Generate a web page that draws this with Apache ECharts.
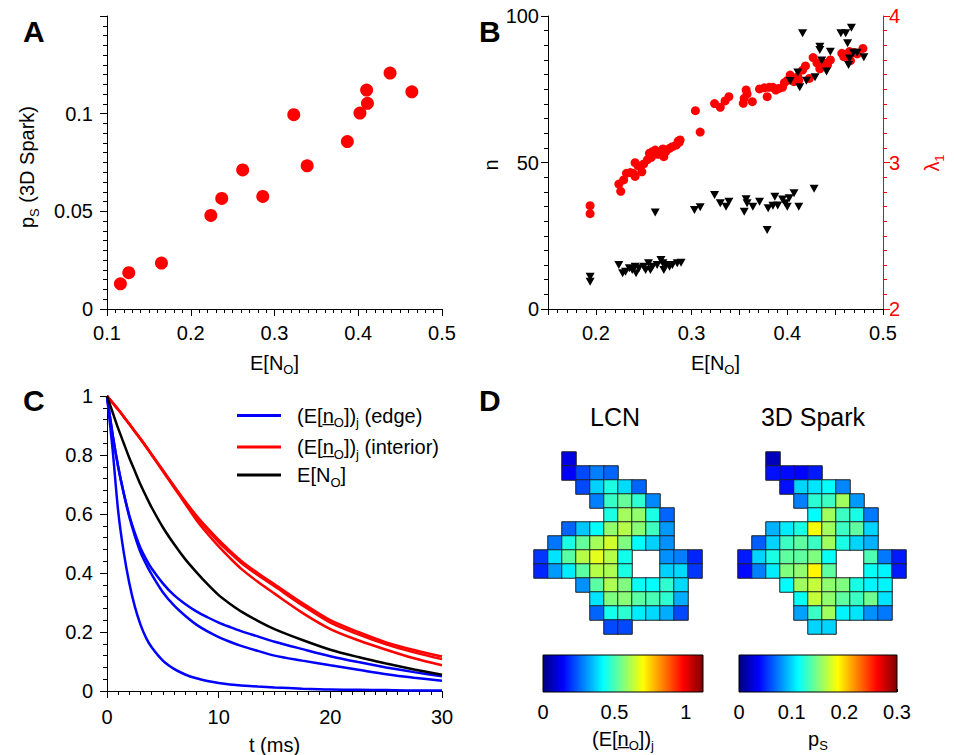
<!DOCTYPE html>
<html>
<head>
<meta charset="utf-8">
<style>
  html, body { margin: 0; padding: 0; background: #fff; }
  #chart { width: 954px; height: 755px; }
</style>
<script src="https://cdn.jsdelivr.net/npm/echarts@6/dist/echarts.min.js"></script>
</head>
<body>
<div id="chart"></div>
<script>
const FONT = "'Liberation Sans', Arial, sans-serif";

// ---- panel A: p_S vs E[N_O]
const aENo = [0.116, 0.126, 0.165, 0.224, 0.237, 0.262, 0.286, 0.323, 0.339, 0.387, 0.402, 0.410, 0.411, 0.438, 0.464];
const aPs = [0.0129, 0.0186, 0.0235, 0.0479, 0.0566, 0.0712, 0.0576, 0.0995, 0.0733, 0.0857, 0.1003, 0.1121, 0.1053, 0.1208, 0.1112];

// ---- panel B: lambda_1 (red, right axis) and n (black, left axis)
const bLamX = [0.194, 0.194, 0.224, 0.226, 0.229, 0.232, 0.236, 0.239, 0.241, 0.241, 0.244, 0.248, 0.250, 0.254, 0.256,
  0.258, 0.259, 0.262, 0.265, 0.268, 0.270, 0.271, 0.273, 0.277, 0.280, 0.284, 0.286, 0.287, 0.288, 0.304,
  0.309, 0.324, 0.330, 0.335, 0.339, 0.354, 0.355, 0.357, 0.358, 0.3635, 0.371, 0.376, 0.379, 0.381, 0.385,
  0.388, 0.391, 0.395, 0.397, 0.400, 0.403, 0.407, 0.411, 0.412, 0.416, 0.419, 0.423, 0.427, 0.431, 0.434,
  0.435, 0.438, 0.442, 0.445, 0.457, 0.459, 0.462, 0.465, 0.466, 0.470, 0.473, 0.479];
const bLam = [2.705, 2.651, 2.853, 2.803, 2.881, 2.926, 2.931, 2.926, 2.905, 2.999, 2.978, 2.937, 2.990, 3.020, 3.063,
  3.035, 3.074, 3.085, 3.056, 3.075, 3.092, 3.040, 3.074, 3.097, 3.108, 3.119, 3.145, 3.137, 3.154, 3.354,
  3.208, 3.402, 3.377, 3.420, 3.449, 3.404, 3.438, 3.495, 3.468, 3.415, 3.502, 3.510, 3.449, 3.513, 3.513,
  3.495, 3.505, 3.513, 3.545, 3.560, 3.597, 3.552, 3.586, 3.560, 3.631, 3.659, 3.574, 3.716, 3.680, 3.640,
  3.660, 3.680, 3.665, 3.700, 3.745, 3.722, 3.735, 3.757, 3.695, 3.750, 3.741, 3.779];
const bNX = [0.194, 0.194, 0.224, 0.228, 0.231, 0.235, 0.238, 0.241, 0.242, 0.245, 0.250, 0.252, 0.255, 0.257, 0.259,
  0.262, 0.264, 0.268, 0.270, 0.271, 0.273, 0.277, 0.280, 0.285, 0.289,
  0.303, 0.309, 0.324, 0.330, 0.336, 0.339, 0.355, 0.357, 0.358, 0.364, 0.371, 0.379, 0.380, 0.385, 0.387,
  0.390, 0.395, 0.398, 0.400, 0.402, 0.407, 0.412, 0.428,
  0.403, 0.411, 0.413, 0.416, 0.420, 0.429, 0.434, 0.434, 0.436, 0.441, 0.445, 0.456, 0.461, 0.463, 0.464,
  0.465, 0.467, 0.469, 0.473, 0.480];
const bN = [11.0, 9.3, 15.0, 12.2, 12.7, 13.9, 13.3, 14.4, 12.2, 13.9, 14.4, 13.3, 15.6, 13.3, 14.4,
  32.9, 15.0, 16.7, 15.6, 13.3, 15.0, 14.4, 15.0, 15.6, 15.8,
  33.8, 34.7, 38.9, 36.1, 34.9, 36.6, 33.2, 37.5, 36.1, 34.9, 36.6, 27.0, 34.4, 35.2, 38.3,
  35.3, 37.4, 36.1, 34.9, 37.8, 39.5, 34.9, 41.0,
  77.8, 80.7, 75.7, 94.1, 77.9, 79.1, 89.5, 88.4, 84.8, 81.1, 87.8, 94.1, 94.1, 90.7, 83.3,
  85.5, 96.0, 87.5, 87.5, 85.9];
const bTickLabels = [0.2, 0.3, 0.4, 0.5];

// ---- panel C: decay curves (ms)
const cT = [0, 0.5, 1, 1.5, 2, 2.5, 3, 3.5, 4, 5, 6, 7, 8, 9, 10, 11, 12, 13.5, 15, 17.5, 20, 22.5, 25, 27.5, 30];
const cEdge1 = [1, 0.82, 0.61, 0.47, 0.365, 0.285, 0.225, 0.18, 0.148, 0.103, 0.075, 0.056, 0.043, 0.034, 0.027,
  0.022, 0.019, 0.015, 0.012, 0.008, 0.005, 0.004, 0.003, 0.002, 0.002];
const cEdge2 = [1, 0.87, 0.76, 0.67, 0.59, 0.525, 0.47, 0.43, 0.395, 0.335, 0.29, 0.255, 0.225, 0.202, 0.183,
  0.167, 0.153, 0.136, 0.12, 0.103, 0.087, 0.072, 0.057, 0.045, 0.035];
const cEdge3 = [1, 0.87, 0.76, 0.67, 0.595, 0.535, 0.485, 0.447, 0.415, 0.365, 0.325, 0.295, 0.27, 0.25, 0.232,
  0.217, 0.203, 0.185, 0.167, 0.142, 0.118, 0.098, 0.08, 0.064, 0.05];
const cInt1 = [1, 0.977, 0.954, 0.93, 0.905, 0.88, 0.855, 0.829, 0.802, 0.748, 0.695, 0.643, 0.595, 0.552, 0.512,
  0.476, 0.442, 0.4, 0.362, 0.298, 0.24, 0.2, 0.165, 0.139, 0.117];
const cInt2 = [1, 0.977, 0.954, 0.93, 0.905, 0.88, 0.855, 0.829, 0.802, 0.748, 0.694, 0.641, 0.59, 0.546, 0.505,
  0.469, 0.435, 0.393, 0.355, 0.29, 0.232, 0.192, 0.158, 0.131, 0.108];
const cInt3 = [1, 0.977, 0.954, 0.93, 0.905, 0.879, 0.853, 0.827, 0.8, 0.745, 0.69, 0.635, 0.58, 0.533, 0.49,
  0.451, 0.415, 0.37, 0.33, 0.265, 0.21, 0.172, 0.14, 0.111, 0.087];
const cTotal = [1, 0.945, 0.89, 0.84, 0.79, 0.745, 0.7, 0.66, 0.622, 0.555, 0.498, 0.447, 0.403, 0.362, 0.325,
  0.296, 0.27, 0.238, 0.21, 0.173, 0.14, 0.115, 0.093, 0.073, 0.055];

// ---- panel D: per-site maps (rows top to bottom, 12 columns, null = no site)
const _ = null;
const lcnMap = [
  [_, _, 0.11, _, _, _, _, _, _, _, _, _],
  [_, _, 0.14, 0.22, 0.28, 0.25, _, _, _, _, _, _],
  [_, _, _, 0.22, 0.37, 0.45, 0.38, 0.25, _, _, _, _],
  [_, _, _, _, 0.28, 0.48, 0.53, 0.47, 0.29, _, _, _],
  [_, _, _, _, _, 0.45, 0.60, 0.58, 0.45, 0.25, _, _],
  [_, _, 0.25, 0.36, 0.42, 0.58, 0.62, 0.57, 0.49, 0.31, _, _],
  [_, 0.27, 0.45, 0.53, 0.60, 0.65, 0.56, 0.42, 0.37, 0.30, _, _],
  [0.20, 0.39, 0.52, 0.62, 0.67, 0.62, 0.44, _, _, 0.30, 0.28, 0.18],
  [0.18, 0.31, 0.40, 0.52, 0.62, 0.61, 0.45, _, _, 0.37, 0.38, 0.20],
  [_, _, _, 0.30, 0.52, 0.61, 0.56, 0.43, 0.42, 0.47, 0.38, _],
  [_, _, _, _, 0.39, 0.56, 0.57, 0.52, 0.50, 0.47, 0.33, _],
  [_, _, _, _, 0.25, 0.44, 0.47, 0.40, 0.38, 0.33, 0.22, _],
  [_, _, _, _, _, 0.22, 0.22, _, _, _, _, _]
];
const sparkMap = [
  [_, _, 0.018, _, _, _, _, _, _, _, _, _],
  [_, _, 0.042, 0.040, 0.038, 0.045, _, _, _, _, _, _],
  [_, _, _, 0.042, 0.100, 0.105, 0.113, 0.077, _, _, _, _],
  [_, _, _, _, 0.075, 0.125, 0.130, 0.160, 0.083, _, _, _],
  [_, _, _, _, _, 0.112, 0.160, 0.130, 0.120, 0.073, _, _],
  [_, _, 0.090, 0.107, 0.120, 0.185, 0.160, 0.130, 0.140, 0.100, _, _],
  [_, 0.065, 0.100, 0.130, 0.140, 0.130, 0.160, 0.120, 0.100, 0.090, _, _],
  [0.045, 0.100, 0.120, 0.140, 0.140, 0.150, 0.115, _, _, 0.135, 0.073, 0.045],
  [0.040, 0.075, 0.107, 0.150, 0.155, 0.190, 0.140, _, _, 0.115, 0.110, 0.045],
  [_, _, _, 0.112, 0.160, 0.170, 0.155, 0.150, 0.120, 0.110, 0.110, _],
  [_, _, _, _, 0.115, 0.170, 0.155, 0.140, 0.130, 0.145, 0.105, _],
  [_, _, _, _, 0.085, 0.130, 0.160, 0.110, 0.105, 0.080, 0.073, _],
  [_, _, _, _, _, 0.100, 0.100, _, _, _, _, _]
];
const lcnMax = 1.12;
const sparkMax = 0.3;
const jet = ['#00007f', '#0000ff', '#007fff', '#00ffff', '#7fff7f', '#ffff00', '#ff7f00', '#ff0000', '#7f0000'];

const zip = (xs, ys) => xs.map((x, i) => [x, ys[i]]);
const cells = (m) => {
  const out = [];
  m.forEach((row, r) => row.forEach((v, c) => { if (v !== null) out.push([c, r, v]); }));
  return out;
};

const sub = { fontSize: 13, fontFamily: FONT, padding: [14, 0, 0, 0] };
const black = '#000';
const red = '#ff0000';

function valueAxis(o) {
  const color = o.color || black;
  const label = {
    show: o.label !== false,
    color: color, fontSize: 20, fontFamily: FONT, margin: o.margin || 12,
    hideOverlap: false, showMaxLabel: o.showMax !== false, showMinLabel: o.showMin !== false
  };
  if (o.labelValues) label.customValues = o.labelValues;
  return {
    type: 'value',
    gridIndex: o.grid,
    position: o.position,
    min: o.min,
    max: o.max,
    interval: o.interval,
    name: o.name,
    nameLocation: 'middle',
    nameGap: o.nameGap,
    nameTextStyle: { fontSize: 20, fontFamily: FONT, color: color, rich: { s: Object.assign({}, sub, { color: color }) } },
    axisLine: { show: true, onZero: false, lineStyle: { color: o.line === false ? 'rgba(0,0,0,0)' : color, width: 1 } },
    axisTick: { show: o.ticks !== false, inside: !!o.inside, length: o.tickLen || 7, lineStyle: { color: color, width: 1 } },
    minorTick: { show: !!o.minor, splitNumber: o.minor || 5, length: 4, lineStyle: { color: color, width: 1 } },
    splitLine: { show: false },
    minorSplitLine: { show: false },
    axisLabel: label
  };
}

function hiddenCat(grid, n, inverse) {
  return { type: 'category', gridIndex: grid, data: Array.from({ length: n }, (v, i) => String(i)), inverse: !!inverse, show: false };
}

function colorBar(params, api) {
  const p0 = api.coord([api.value(0), 1]);
  const p1 = api.coord([api.value(1), 0]);
  return {
    type: 'rect',
    shape: { x: p0[0], y: p0[1], width: p1[0] - p0[0], height: p1[1] - p0[1] },
    style: {
      fill: new echarts.graphic.LinearGradient(0, 0, 1, 0, jet.map((c, i) => ({ offset: i / (jet.length - 1), color: c }))),
      stroke: '#000', lineWidth: 1
    }
  };
}

const lineSeries = (name, color, data) => ({
  type: 'line', name: name, xAxisIndex: 2, yAxisIndex: 3, data: zip(cT, data),
  smooth: 0.3, showSymbol: false, symbol: 'none',
  lineStyle: { color: color, width: 2.5 }, itemStyle: { color: color }
});

const legendBase = {
  orient: 'horizontal', icon: 'rect', itemWidth: 44, itemHeight: 3, padding: 0, selectedMode: false,
  textStyle: { fontSize: 20, fontFamily: FONT, color: black, rich: { s: sub } }
};

const label = (x, y, text, opts) => ({
  type: 'text', x: x, y: y, rotation: opts.rotation || 0,
  style: Object.assign({
    text: text, fontSize: 20, fontFamily: FONT, fill: black, align: 'center', verticalAlign: 'middle',
    rich: { s: Object.assign({}, sub, { fill: opts.fill || black }) }
  }, opts.style || {}, opts.fill ? { fill: opts.fill } : {})
});

const chart = echarts.init(document.getElementById('chart'), null, { renderer: 'svg' });

const bRect = { left: 548, top: 16, width: 335, height: 293, outerBoundsMode: 'none' };

chart.setOption({
  animation: false,
  backgroundColor: '#fff',
  textStyle: { fontFamily: FONT },
  grid: [
    { left: 107, top: 16, width: 335, height: 293, outerBoundsMode: 'none' },
    bRect,
    { left: 107, top: 396, width: 335, height: 295, outerBoundsMode: 'none' },
    { left: 534, top: 452, width: 168, height: 182, outerBoundsMode: 'none' },
    { left: 738, top: 452, width: 168, height: 182, outerBoundsMode: 'none' },
    { left: 543, top: 655, width: 160, height: 37, outerBoundsMode: 'none' },
    { left: 739, top: 655, width: 158, height: 37, outerBoundsMode: 'none' },
    // same rectangle as panel B, carries only the red lambda_1 axis
    Object.assign({}, bRect)
  ],
  xAxis: [
    valueAxis({ grid: 0, min: 0.1, max: 0.5, interval: 0.1, minor: 10, name: 'E[N{s|O}]', nameGap: 40, margin: 14 }),
    valueAxis({ grid: 1, min: 0.15, max: 0.5, interval: 0.05, minor: 5, tickLen: 6,
      labelValues: bTickLabels, name: 'E[N{s|O}]', nameGap: 40, margin: 14 }),
    valueAxis({ grid: 2, min: 0, max: 30, interval: 10, minor: 10, name: 't (ms)', nameGap: 44, margin: 16 }),
    hiddenCat(3, 12),
    hiddenCat(4, 12),
    valueAxis({ grid: 5, min: 0, max: lcnMax, interval: 0.5, line: false, inside: true, tickLen: 3, showMax: false,
      name: '(E[n\u0332{s|O}]){s|j}', nameGap: 33, margin: 10 }),
    valueAxis({ grid: 6, min: 0, max: sparkMax, interval: 0.1, line: false, inside: true, tickLen: 3,
      name: 'p{s|S}', nameGap: 33, margin: 10 }),
    { type: 'value', gridIndex: 7, min: 0.15, max: 0.5, show: false }
  ],
  yAxis: [
    valueAxis({ grid: 0, min: 0, max: 0.15, interval: 0.05, minor: 10, showMax: false, margin: 14 }),
    valueAxis({ grid: 1, min: 0, max: 100, interval: 50, minor: 10, margin: 9 }),
    valueAxis({ grid: 7, position: 'right', min: 2, max: 4, interval: 1, minor: 10, color: red, margin: 6 }),
    valueAxis({ grid: 2, min: 0, max: 1, interval: 0.2, minor: 5, margin: 14 }),
    hiddenCat(3, 13, true),
    hiddenCat(4, 13, true),
    { type: 'value', gridIndex: 5, min: 0, max: 1, show: false },
    { type: 'value', gridIndex: 6, min: 0, max: 1, show: false }
  ],
  visualMap: [
    { show: false, seriesIndex: 10, min: 0, max: lcnMax, inRange: { color: jet } },
    { show: false, seriesIndex: 11, min: 0, max: sparkMax, inRange: { color: jet } }
  ],
  legend: [
    Object.assign({}, legendBase, { data: ['edge'], left: 237, top: 405.5, formatter: () => '  (E[n\u0332{s|O}]){s|j} (edge)' }),
    Object.assign({}, legendBase, { data: ['interior'], left: 237, top: 437, formatter: () => '  (E[n\u0332{s|O}]){s|j} (interior)' }),
    Object.assign({}, legendBase, { data: ['total'], left: 237, top: 465, formatter: () => '  E[N{s|O}]' })
  ],
  graphic: [
    { type: 'text', x: 23, y: 31, style: { text: 'A', fontSize: 30, fontWeight: 'bold', fontFamily: FONT, fill: black, verticalAlign: 'middle' } },
    { type: 'text', x: 479, y: 31, style: { text: 'B', fontSize: 30, fontWeight: 'bold', fontFamily: FONT, fill: black, verticalAlign: 'middle' } },
    { type: 'text', x: 23, y: 400, style: { text: 'C', fontSize: 30, fontWeight: 'bold', fontFamily: FONT, fill: black, verticalAlign: 'middle' } },
    { type: 'text', x: 479, y: 400, style: { text: 'D', fontSize: 30, fontWeight: 'bold', fontFamily: FONT, fill: black, verticalAlign: 'middle' } },
    label(615, 417, 'LCN', { style: { fontSize: 25 } }),
    label(813, 417, '3D Spark', { style: { fontSize: 25 } }),
    // rotated y-axis titles
    label(27, 167, 'p{s|S} (3D Spark)', { rotation: Math.PI / 2 }),
    label(491, 165, 'n', { rotation: Math.PI / 2 }),
    label(932, 163, '\u03bb{s|1}', { rotation: Math.PI / 2, fill: red })
  ],
  series: [
    // 0: panel A
    { type: 'scatter', xAxisIndex: 0, yAxisIndex: 0, data: zip(aENo, aPs), symbolSize: 13, itemStyle: { color: red, opacity: 1 } },
    // 1-2: panel B
    { type: 'scatter', xAxisIndex: 7, yAxisIndex: 2, data: zip(bLamX, bLam), symbolSize: 9, itemStyle: { color: red, opacity: 1 } },
    { type: 'scatter', xAxisIndex: 1, yAxisIndex: 1, data: zip(bNX, bN), symbol: 'triangle', symbolRotate: 180, symbolSize: [9, 8], itemStyle: { color: '#000', opacity: 1 }, z: 3 },
    // 3-9: panel C
    lineSeries('edge', '#0000ff', cEdge1),
    lineSeries('edge', '#0000ff', cEdge2),
    lineSeries('edge', '#0000ff', cEdge3),
    lineSeries('interior', red, cInt1),
    lineSeries('interior', red, cInt2),
    lineSeries('interior', red, cInt3),
    lineSeries('total', '#000000', cTotal),
    // 10-11: panel D maps
    { type: 'heatmap', xAxisIndex: 3, yAxisIndex: 4, data: cells(lcnMap), itemStyle: { borderColor: '#222', borderWidth: 1 } },
    { type: 'heatmap', xAxisIndex: 4, yAxisIndex: 5, data: cells(sparkMap), itemStyle: { borderColor: '#222', borderWidth: 1 } },
    // 12-13: colour bars
    { type: 'custom', xAxisIndex: 5, yAxisIndex: 6, data: [[0, lcnMax]], renderItem: colorBar, silent: true },
    { type: 'custom', xAxisIndex: 6, yAxisIndex: 7, data: [[0, sparkMax]], renderItem: colorBar, silent: true }
  ]
});
</script>
</body>
</html>
